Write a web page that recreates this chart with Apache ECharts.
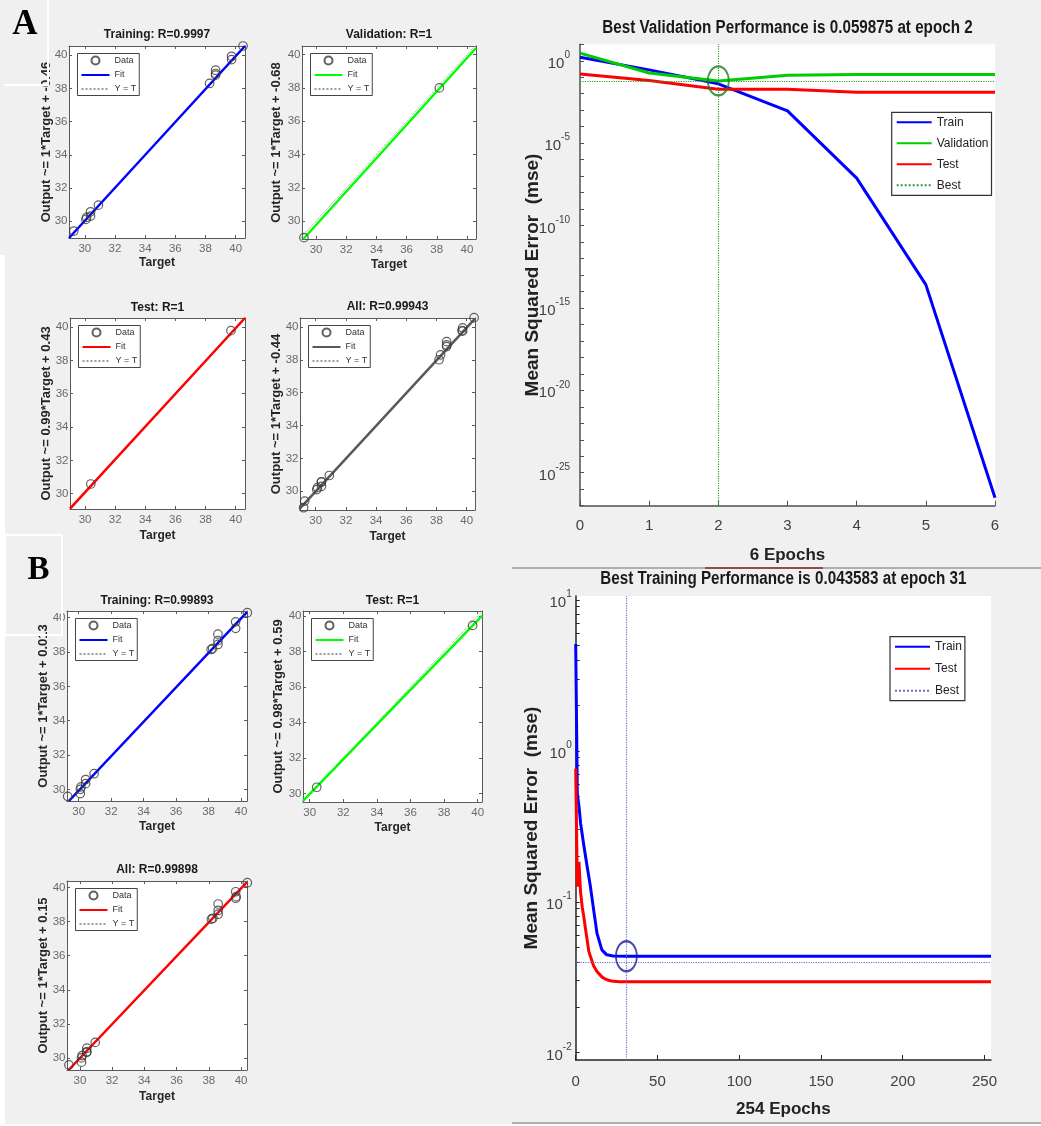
<!DOCTYPE html>
<html><head><meta charset="utf-8">
<script src="https://cdn.jsdelivr.net/npm/echarts@6/dist/echarts.min.js"></script>
<style>html,body{margin:0;padding:0;background:#fff}#c{width:1041px;height:1126px}</style>
</head><body><div id="c"></div>
<script>
// ================= DATA =================
// Regression tick labels
const regTicks = [30, 32, 34, 36, 38, 40];
// Panel A regression data (Target, Output)
const aTrainTarget = [29.27, 30.07, 30.12, 30.38, 30.38, 30.90, 38.27, 38.67, 38.67, 38.67, 39.73, 39.73, 40.49];
const aTrainOutput = [29.40, 30.10, 30.22, 30.56, 30.30, 30.96, 38.30, 39.10, 38.90, 38.80, 39.94, 39.74, 40.56];
const aValTarget = [29.20, 38.17];
const aValOutput = [29.00, 38.00];
const aTestTarget = [30.38, 39.69];
const aTestOutput = [30.58, 39.78];
const aAllTarget = aTrainTarget.concat(aValTarget, aTestTarget);
const aAllOutput = aTrainOutput.concat(aValOutput, aTestOutput);
// Panel B regression data
const bTrainTarget = [29.32, 30.10, 30.10, 30.14, 30.43, 30.43, 30.95, 38.16, 38.25, 38.58, 38.58, 38.58, 39.67, 39.67, 40.39];
const bTrainOutput = [29.59, 30.00, 29.75, 30.14, 30.57, 30.33, 30.91, 38.15, 38.20, 39.04, 38.66, 38.44, 39.76, 39.38, 40.29];
const bTestTarget = [30.42, 39.70];
const bTestOutput = [30.36, 39.47];
const bAllTarget = bTrainTarget.concat(bTestTarget);
const bAllOutput = bTrainOutput.concat(bTestOutput);
// Fit line end points: [Target], [Output]
const aTrainFitT = [28.95, 40.62], aTrainFitO = [28.98, 40.56];
const aValFitT = [29.16, 40.60], aValFitO = [28.92, 40.40];
const aTestFitT = [29.00, 40.62], aTestFitO = [29.10, 40.54];
const aAllFitT = [28.96, 40.55], aAllFitO = [28.96, 40.50];
const bTrainFitT = [29.40, 40.37], bTrainFitO = [29.32, 40.33];
const bTestFitT = [29.60, 40.26], bTestFitO = [29.60, 40.00];
const bAllFitT = [29.30, 40.37], bAllFitO = [29.29, 40.33];
// Y = T reference line
const identityT = [28, 42], identityO = [28, 42];

// Panel A performance (mse per epoch)
const aEpochs = [0, 1, 2, 3, 4, 5, 6];
const aTrainMse = [1.66, 0.28, 0.04, 9.2e-4, 7.6e-8, 2.6e-14, 3e-27];
const aValMse = [2.9, 0.18, 0.059875, 0.133, 0.146, 0.146, 0.146];
const aTestMse = [0.16, 0.063, 0.019, 0.019, 0.0125, 0.0125, 0.0125];
const aBestEpoch = 2, aBestMse = 0.059875;
const aEpochTicks = [0, 1, 2, 3, 4, 5, 6];
const aMseTicks = [1e-25, 1e-20, 1e-15, 1e-10, 1e-5, 1];

// Panel B performance
const bTrainEpochs = [0, 1, 2, 3, 5, 7, 9, 11, 13, 16, 19, 23, 31, 254];
const bTrainMse = [5.1, 0.52, 0.43, 0.33, 0.235, 0.171, 0.126, 0.088, 0.062, 0.048, 0.0445, 0.0437, 0.043583, 0.04358];
const bTestEpochs = [0, 1, 2, 3, 4, 5, 6, 7, 8, 9, 10, 11, 12, 13, 14, 16, 18, 20, 23, 27, 31, 254];
const bTestMse = [0.76, 0.126, 0.184, 0.115, 0.092, 0.079, 0.066, 0.056, 0.047, 0.0435, 0.0445, 0.0375, 0.0385, 0.0345, 0.0335, 0.0318, 0.0308, 0.0302, 0.0297, 0.0295, 0.0295, 0.0295];
const bBestEpoch = 31, bBestMse = 0.043583;
const bEpochTicks = [0, 50, 100, 150, 200, 250];
const bMseTicks = [0.01, 0.1, 1, 10];

// ================= STYLE / LAYOUT =================
const FONT = "'Liberation Sans', Arial, sans-serif";
const pairs = (xs, ys) => xs.map((v, k) => [v, ys[k]]);
const NOSYM = {color:'rgba(0,0,0,0)', borderWidth:0};

const regPlots = [
  {key:'aTrain', title:'Training: R=0.9997', yName:'Output ~= 1*Target + -0.46', color:'#0000ff', T:aTrainTarget, O:aTrainOutput, fT:aTrainFitT, fO:aTrainFitO, box:[69,46,176,192], xr:[28.95,40.62], yr:[28.98,40.56], yGap:16, xGap:19, ty:35},
  {key:'aVal', title:'Validation: R=1', yName:'Output ~= 1*Target + -0.68', color:'#00ff00', T:aValTarget, O:aValOutput, fT:aValFitT, fO:aValFitO, box:[302,46,174,193], xr:[29.07,40.6], yr:[28.92,40.52], yGap:19, xGap:20, ty:35},
  {key:'aTest', title:'Test: R=1', yName:'Output ~= 0.99*Target + 0.43', color:'#ff0000', T:aTestTarget, O:aTestOutput, fT:aTestFitT, fO:aTestFitO, box:[70,318,175,191], xr:[29.0,40.62], yr:[29.08,40.54], yGap:17, xGap:21, ty:308},
  {key:'aAll', title:'All: R=0.99943', yName:'Output ~= 1*Target + -0.44', color:'#595959', T:aAllTarget, O:aAllOutput, fT:aAllFitT, fO:aAllFitO, box:[300,318,175,192], xr:[28.96,40.55], yr:[28.86,40.54], yGap:17, xGap:21, ty:307},
  {key:'bTrain', title:'Training: R=0.99893', yName:'Output ~= 1*Target + 0.013', color:'#0000ff', T:bTrainTarget, O:bTrainOutput, fT:bTrainFitT, fO:bTrainFitO, box:[67,611,180,190], xr:[29.28,40.37], yr:[29.32,40.39], yGap:17, xGap:20, ty:601},
  {key:'bTest', title:'Test: R=1', yName:'Output ~= 0.98*Target + 0.59', color:'#00ff00', T:bTestTarget, O:bTestOutput, fT:bTestFitT, fO:bTestFitO, box:[303,611,179,191], xr:[29.6,40.26], yr:[29.53,40.28], yGap:18, xGap:20, ty:601},
  {key:'bAll', title:'All: R=0.99898', yName:'Output ~= 1*Target + 0.15', color:'#ff0000', T:bAllTarget, O:bAllOutput, fT:bAllFitT, fO:bAllFitO, box:[67,881,180,189], xr:[29.2,40.37], yr:[29.29,40.39], yGap:17, xGap:21, ty:870}
];

const grids = [], xAxes = [], yAxes = [], series = [], legends = [], titles = [], graphics = [];
const nameFmt = n => n.split('#')[0];

regPlots.forEach(p => {
  const [l, t, w, h] = p.box;
  grids.push({left:l, top:t, width:w, height:h, show:true, backgroundColor:'#fff', borderWidth:0});
  const gi = grids.length - 1;
  const common = {type:'value', gridIndex:gi, splitLine:{show:false}, nameMoveOverlap:false,
    axisLine:{show:true, onZero:false, lineStyle:{color:'#5a5a5a', width:1}},
    axisTick:{show:true, inside:true, length:3, customValues:regTicks, lineStyle:{color:'#5a5a5a'}}};
  xAxes.push(Object.assign({}, common, {position:'bottom', min:p.xr[0], max:p.xr[1],
    axisLabel:{customValues:regTicks, fontSize:11.5, color:'#6a6a6a', margin:5, fontFamily:FONT},
    name:'Target', nameLocation:'middle', nameGap:p.xGap,
    nameTextStyle:{fontSize:12, fontWeight:'bold', color:'#262626', fontFamily:FONT}}));
  xAxes.push(Object.assign({}, common, {position:'top', min:p.xr[0], max:p.xr[1], axisLabel:{show:false}}));
  yAxes.push(Object.assign({}, common, {position:'left', min:p.yr[0], max:p.yr[1],
    axisLabel:{customValues:regTicks, fontSize:11.5, color:'#6a6a6a', margin:1.5, fontFamily:FONT},
    name:p.yName, nameLocation:'middle', nameGap:p.yGap,
    nameTextStyle:{fontSize:13, fontWeight:'bold', color:'#262626', fontFamily:FONT}}));
  yAxes.push(Object.assign({}, common, {position:'right', min:p.yr[0], max:p.yr[1], axisLabel:{show:false}}));
  const xi = xAxes.length - 2, yi = yAxes.length - 2;
  series.push({type:'line', name:'Y = T#' + p.key, xAxisIndex:xi, yAxisIndex:yi, data:pairs(identityT, identityO),
    symbol:'none', itemStyle:NOSYM, lineStyle:{color:'#9c9c9c', width:1, type:'dotted'}, z:2});
  series.push({type:'line', name:'Fit#' + p.key, xAxisIndex:xi, yAxisIndex:yi, data:pairs(p.fT, p.fO),
    symbol:'none', itemStyle:NOSYM, lineStyle:{color:p.color, width:2.5}, z:3});
  series.push({type:'scatter', name:'Data#' + p.key, xAxisIndex:xi, yAxisIndex:yi, data:pairs(p.T, p.O),
    symbol:'circle', symbolSize:8.5, clip:false, itemStyle:{color:'rgba(0,0,0,0)', borderColor:'#3a3a3a', borderWidth:1.2}, z:4});
  legends.push({left:l + 8.5, top:t + 7.5, orient:'vertical', selectedMode:false,
    data:['Data#' + p.key, 'Fit#' + p.key, 'Y = T#' + p.key], formatter:nameFmt,
    itemWidth:28, itemHeight:8, itemGap:5, padding:[2, 3, 2, 3],
    backgroundColor:'#fff', borderColor:'#444', borderWidth:1,
    textStyle:{fontSize:9, color:'#333', fontFamily:FONT}});
  titles.push({text:p.title, left:l + w / 2, top:p.ty, textAlign:'center', textVerticalAlign:'middle', padding:0,
    textStyle:{fontSize:12, fontWeight:'bold', color:'#1a1a1a', fontFamily:FONT}});
});

// log tick helpers (tick positions only)
const aMseMinor = []; for (let e = -27; e <= 1; e++) aMseMinor.push(Math.pow(10, e));
const bMseMinor = []; for (let e = -2; e <= 0; e++) for (let m = 1; m <= 9; m++) bMseMinor.push(m * Math.pow(10, e)); bMseMinor.push(10);

const supFmt = v => '{b|10}{s|' + Math.round(Math.log10(v)) + '}';
const supRich = {b:{fontSize:15, fontFamily:FONT, color:'#404040', verticalAlign:'bottom', lineHeight:21},
                 s:{fontSize:10, fontFamily:FONT, color:'#404040', verticalAlign:'top', lineHeight:13}};

function perfPlot(cfg) {
  grids.push({left:cfg.box[0], top:cfg.box[1], width:cfg.box[2], height:cfg.box[3], show:true, backgroundColor:'#fff', borderWidth:0});
  const gi = grids.length - 1;
  xAxes.push({type:'value', gridIndex:gi, min:cfg.xr[0], max:cfg.xr[1], splitLine:{show:false}, nameMoveOverlap:false,
    axisLine:{show:true, onZero:false, lineStyle:{color:cfg.axisColor, width:1.5}},
    axisTick:{inside:true, length:5, customValues:cfg.xTicks, lineStyle:{color:cfg.axisColor}},
    axisLabel:{customValues:cfg.xTicks, fontSize:15, color:'#404040', margin:cfg.xMargin, fontFamily:FONT},
    name:cfg.xName, nameLocation:'middle', nameGap:cfg.xGap,
    nameTextStyle:{fontSize:17, fontWeight:'bold', color:'#222', fontFamily:FONT}});
  yAxes.push({type:'log', logBase:10, gridIndex:gi, min:cfg.yr[0], max:cfg.yr[1], splitLine:{show:false}, nameMoveOverlap:false,
    axisLine:{show:true, onZero:false, lineStyle:{color:cfg.axisColor, width:1.5}},
    axisTick:{inside:true, length:4, customValues:cfg.yMinor, lineStyle:{color:cfg.axisColor}},
    axisLabel:{customValues:cfg.yTicks, formatter:supFmt, rich:supRich, margin:cfg.yMargin},
    name:'Mean Squared Error  (mse)', nameLocation:'middle', nameGap:cfg.yGap,
    nameTextStyle:{fontSize:19, fontWeight:'bold', color:'#222', fontFamily:FONT}});
  const xi = xAxes.length - 1, yi = yAxes.length - 1;
  cfg.lines.forEach(s => series.push({type:'line', name:s.name + '#' + cfg.key, xAxisIndex:xi, yAxisIndex:yi,
    data:pairs(s.x, s.y), symbol:'none', itemStyle:NOSYM, lineStyle:{color:s.color, width:3}, z:3}));
  series.push({type:'line', name:'Best#' + cfg.key, xAxisIndex:xi, yAxisIndex:yi, data:[[cfg.bestX, cfg.bestY]],
    symbol:'none', itemStyle:NOSYM, lineStyle:{color:cfg.bestColor, width:1.2, type:'dotted'}, z:2,
    markLine:{silent:true, symbol:'none', label:{show:false}, lineStyle:{color:cfg.bestColor, width:1.2, type:'dotted'},
      data:[{xAxis:cfg.bestX}, {yAxis:cfg.bestY}]}});
  series.push({type:'scatter', name:'BestCircle#' + cfg.key, xAxisIndex:xi, yAxisIndex:yi, data:[[cfg.bestX, cfg.bestY]],
    symbol:'circle', symbolSize:cfg.circleSize, clip:false,
    itemStyle:{color:'rgba(0,0,0,0)', borderColor:cfg.circleColor, borderWidth:2}, z:5});
  legends.push({left:cfg.legend[0], top:cfg.legend[1], orient:'vertical', selectedMode:false,
    data:cfg.lines.map(s => s.name + '#' + cfg.key).concat(['Best#' + cfg.key]), formatter:nameFmt,
    itemWidth:35, itemHeight:14, itemGap:cfg.legendGap, padding:[4, 3, 4, 4],
    backgroundColor:'#fff', borderColor:'#333', borderWidth:1.2,
    textStyle:{fontSize:12, color:'#222', fontFamily:FONT}});
  // horizontally condensed title, as in the reference
  graphics.push({type:'text', x:cfg.box[0] + cfg.box[2] / 2, y:cfg.titleY, scaleX:0.845, z:50, silent:true,
    style:{text:cfg.title, x:0, y:0, fontSize:18, fontWeight:'bold', fontFamily:FONT, fill:'#1a1a1a',
      align:'center', verticalAlign:'middle', textAlign:'center', textVerticalAlign:'middle'}});
}

perfPlot({key:'A', box:[580, 44.3, 415, 461.4], xr:[0, 6], yr:[1e-27, 10], xTicks:aEpochTicks, yTicks:aMseTicks, yMinor:aMseMinor,
  axisColor:'#505050', xName:'6 Epochs', xGap:41, xMargin:13, yGap:38, yMargin:10,
  lines:[{name:'Train', x:aEpochs, y:aTrainMse, color:'#0000ff'},
         {name:'Validation', x:aEpochs, y:aValMse, color:'#00cc00'},
         {name:'Test', x:aEpochs, y:aTestMse, color:'#ff0000'}],
  bestX:aBestEpoch, bestY:aBestMse, bestColor:'#2aa02a', circleColor:'#13801a', circleSize:[21, 29],
  legend:[891.7, 112.3], legendGap:9, title:'Best Validation Performance is 0.059875 at epoch 2', titleY:28});

perfPlot({key:'B', box:[575.7, 596, 415.3, 464], xr:[0, 254], yr:[0.00895, 10.6], xTicks:bEpochTicks, yTicks:bMseTicks, yMinor:bMseMinor,
  axisColor:'#262626', xName:'254 Epochs', xGap:41, xMargin:14, yGap:34, yMargin:4,
  lines:[{name:'Train', x:bTrainEpochs, y:bTrainMse, color:'#0000ff'},
         {name:'Test', x:bTestEpochs, y:bTestMse, color:'#ff0000'}],
  bestX:bBestEpoch, bestY:bBestMse, bestColor:'#6a6ae0', circleColor:'#1c1c9a', circleSize:[21, 30],
  legend:[890, 636.7], legendGap:10, title:'Best Training Performance is 0.043583 at epoch 31', titleY:579});

// Panel letters
titles.push({text:'A', left:25, top:25, textAlign:'center', textVerticalAlign:'middle', padding:0,
  textStyle:{fontSize:35, fontWeight:'bold', color:'#000', fontFamily:"'Liberation Serif', 'Times New Roman', serif"}});
titles.push({text:'B', left:38.5, top:570, textAlign:'center', textVerticalAlign:'middle', padding:0,
  textStyle:{fontSize:33, fontWeight:'bold', color:'#000', fontFamily:"'Liberation Serif', 'Times New Roman', serif"}});

graphics.push(
  {type:'rect', shape:{x:0, y:255, width:5, height:871}, style:{fill:'#fff'}, z:-10, silent:true},
  {type:'rect', shape:{x:0, y:1124, width:1041, height:2}, style:{fill:'#fff'}, z:-10, silent:true},
  {type:'polyline', shape:{points:[[48, 0], [48, 85], [4, 85]]}, style:{stroke:'#fff', lineWidth:2, fill:null}, z:100, silent:true},
  {type:'polyline', shape:{points:[[5, 635], [5, 535], [62, 535], [62, 635], [5, 635]]}, style:{stroke:'#fff', lineWidth:2, fill:null}, z:100, silent:true},
  {type:'line', shape:{x1:512, y1:568, x2:1041, y2:568}, style:{stroke:'#9a9a9a', lineWidth:1.5}, z:100, silent:true},
  {type:'line', shape:{x1:705, y1:568, x2:823, y2:568}, style:{stroke:'#8a2a2a', lineWidth:1.5}, z:101, silent:true},
  {type:'line', shape:{x1:512, y1:1123, x2:1041, y2:1123}, style:{stroke:'#9a9a9a', lineWidth:1.5}, z:100, silent:true}
);

const chart = echarts.init(document.getElementById('c'), null, {renderer:'canvas'});
chart.setOption({
  animation:false,
  backgroundColor:'#f0f0f0',
  title:titles, grid:grids, xAxis:xAxes, yAxis:yAxes, legend:legends, series:series, graphic:graphics
});
</script></body></html>
